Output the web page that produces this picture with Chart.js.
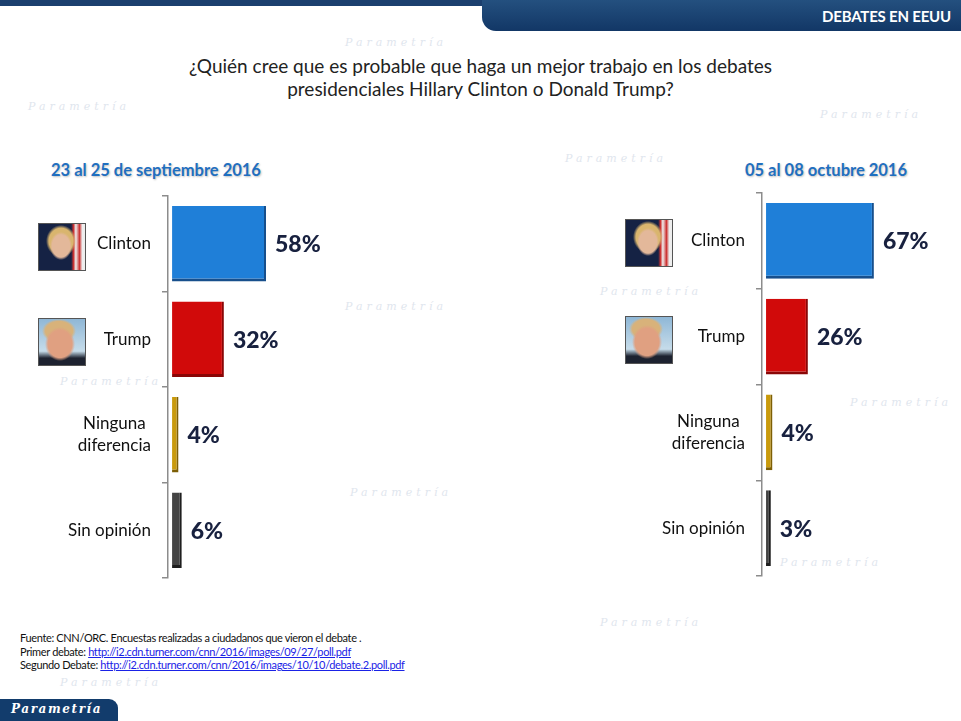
<!DOCTYPE html>
<html lang="es">
<head>
<meta charset="UTF-8">
<title>Debates en EEUU - Parametría</title>
<script src="https://cdn.jsdelivr.net/npm/chart.js"></script>
<style>
  body { margin: 0; width: 961px; height: 721px; position: relative; overflow: hidden; background: #fff; font-family: Lato, "Open Sans", sans-serif; }
  .topband { position: absolute; left: 0; top: 0; width: 961px; height: 6px; background: #1b3f6e; }
  .tab { position: absolute; left: 482px; top: 0; width: 479px; height: 31px; background: linear-gradient(#24507f, #123766); border-bottom-left-radius: 14px; }
  .tab span { position: absolute; right: 10px; top: 7px; color: #fff; font-weight: bold; font-size: 15px; letter-spacing: -0.2px; }
  .wm { position: absolute; font-family: "DejaVu Serif", serif; font-style: italic; font-size: 11px; letter-spacing: 4px; color: #dfe6ee; }
  .title { position: absolute; left: 0; top: 54px; width: 961px; text-align: center; font-size: 19px; line-height: 23px; color: #222; }
  .sub { position: absolute; top: 160px; font-weight: bold; font-size: 16.5px; color: #1f6fc0; text-shadow: 1px 1px 2px rgba(0,0,0,0.25); text-align: center; }
  .chartbox { position: absolute; }
  .photo { position: absolute; width: 46px; height: 46px; border: 1px solid #555; }
  .hillary { background: radial-gradient(ellipse 11px 14px at 22px 22px, #e3b89a 80%, transparent 100%), radial-gradient(ellipse 15px 16px at 22px 17px, #d9b56e 80%, transparent 100%), linear-gradient(90deg, #152244 70%, #c33 75%, #eee 80%, #c33 88%, #eee 94%); }
  .donald { background: radial-gradient(ellipse 15px 17px at 21px 25px, #e0a081 80%, transparent 100%), radial-gradient(ellipse 17px 12px at 20px 12px, #d8b27a 80%, transparent 100%), linear-gradient(#8fb7d6, #c6dcea 70%, #1d2230 85%); }
  .foot { position: absolute; left: 20px; top: 631px; font-size: 11px; line-height: 13.5px; letter-spacing: -0.35px; color: #111; }
  .foot a { color: #1a22e6; text-decoration: underline; }
  .logo { position: absolute; left: 0; top: 699px; width: 118px; height: 22px; background: #123c6c; border-top-right-radius: 9px; }
  .logo span { position: absolute; left: 11px; top: 3px; color: #fff; font-style: italic; font-weight: bold; font-size: 12px; letter-spacing: 1.6px; font-family: "DejaVu Serif", serif; }
</style>
</head>
<body>
<div class="wm" style="left:345px;top:36px;">Parametría</div>
<div class="wm" style="left:28px;top:100px;">Parametría</div>
<div class="wm" style="left:565px;top:152px;">Parametría</div>
<div class="wm" style="left:820px;top:108px;">Parametría</div>
<div class="wm" style="left:345px;top:300px;">Parametría</div>
<div class="wm" style="left:60px;top:375px;">Parametría</div>
<div class="wm" style="left:350px;top:486px;">Parametría</div>
<div class="wm" style="left:850px;top:396px;">Parametría</div>
<div class="wm" style="left:780px;top:556px;">Parametría</div>
<div class="wm" style="left:600px;top:285px;">Parametría</div>
<div class="wm" style="left:60px;top:676px;">Parametría</div>
<div class="wm" style="left:600px;top:616px;">Parametría</div>

<div class="topband"></div>
<div class="tab"><span>DEBATES EN EEUU</span></div>
<div class="title">¿Quién cree que es probable que haga un mejor trabajo en los debates<br>presidenciales Hillary Clinton o Donald Trump?</div>

<div class="sub" style="left:30px;width:252px;">23 al 25 de septiembre 2016</div>
<div class="sub" style="left:720px;width:212px;">05 al 08 octubre 2016</div>

<div class="chartbox" style="left:0;top:150px;width:340px;height:440px;"><canvas id="septChart"></canvas></div>
<div class="chartbox" style="left:600px;top:150px;width:361px;height:440px;"><canvas id="octChart"></canvas></div>

<div class="photo hillary" style="left:38px;top:223px;"></div>
<div class="photo donald" style="left:38px;top:318px;"></div>
<div class="photo hillary" style="left:625px;top:219px;"></div>
<div class="photo donald" style="left:625px;top:316px;"></div>

<div class="foot">
  Fuente: CNN/ORC. Encuestas realizadas a ciudadanos que vieron el debate .<br>
  Primer debate: <a href="#">http://i2.cdn.turner.com/cnn/2016/images/09/27/poll.pdf</a><br>
  Segundo Debate: <a href="#">http://i2.cdn.turner.com/cnn/2016/images/10/10/debate.2.poll.pdf</a>
</div>
<div class="logo"><span>Parametría</span></div>

<script>
// Data
const categories = ['Clinton', 'Trump', ['Ninguna', 'diferencia'], 'Sin opinión'];
const septValues = [58, 32, 4, 6];
const octValues = [67, 26, 4, 3];

const barColors = ['#1f7fd8', '#d10a0a', '#c99a0c', '#444444'];
const edgeColors = ['#174f8c', '#8a0606', '#7d5f05', '#1e1e1e'];

// category labels (centered lines, right-aligned block)
const categoryLabels = {
    id: 'categoryLabels',
    afterDraw(chart) {
        const ctx = chart.ctx;
        const y = chart.scales.y;
        const right = chart.chartArea.left - 17;
        ctx.save();
        ctx.font = '17px Lato, "Open Sans", sans-serif';
        ctx.fillStyle = '#111';
        ctx.textBaseline = 'middle';
        ctx.textAlign = 'center';
        chart.data.labels.forEach(function(lab, i) {
            const lines = Array.isArray(lab) ? lab : [lab];
            const w = Math.max.apply(null, lines.map(l => ctx.measureText(l).width));
            const cx = right - w / 2;
            const cy = y.getPixelForValue(i);
            const lh = 22;
            lines.forEach(function(l, k) {
                ctx.fillText(l, cx, cy + (k - (lines.length - 1) / 2) * lh);
            });
        });
        ctx.restore();
    }
};

// percentage at the end of each bar
const valueLabels = {
    id: 'valueLabels',
    afterDatasetsDraw(chart) {
        const ctx = chart.ctx;
        const meta = chart.getDatasetMeta(0);
        ctx.save();
        ctx.font = '900 23px Lato, "Open Sans", sans-serif';
        ctx.fillStyle = '#18213f';
        ctx.textBaseline = 'middle';
        ctx.textAlign = 'left';
        meta.data.forEach(function(bar, i) {
            ctx.fillText(chart.data.datasets[0].data[i] + '%', bar.x + 9, bar.y + 1);
        });
        ctx.restore();
    }
};

function makeChart(id, values, axisWidth, pad) {
    return new Chart(document.getElementById(id), {
        type: 'bar',
        data: {
            labels: categories,
            datasets: [{
                data: values,
                backgroundColor: barColors,
                borderColor: edgeColors,
                borderWidth: { top: 0, left: 0, right: 2, bottom: 3 },
                borderSkipped: false,
                categoryPercentage: 1,
                barPercentage: 0.79
            }]
        },
        options: {
            indexAxis: 'y',
            responsive: true,
            maintainAspectRatio: false,
            animation: false,
            layout: { padding: pad },
            plugins: { legend: { display: false }, tooltip: { enabled: false } },
            scales: {
                // small gap between axis line and bar base, like the 3D original
                x: { display: false, min: -2.5, max: 97.5 },
                y: {
                    afterFit(scale) { scale.width = axisWidth; },
                    ticks: { display: false },
                    grid: { offset: true, drawOnChartArea: false, drawTicks: true, tickLength: 6, color: '#8c8c8c', lineWidth: 1.5 },
                    border: { display: true, color: '#8c8c8c', width: 1.5 }
                }
            }
        },
        plugins: [categoryLabels, valueLabels]
    });
}

makeChart('septChart', septValues, 168, { left: 0, right: 10, top: 46, bottom: 12 });
makeChart('octChart', octValues, 162, { left: 0, right: 38, top: 43, bottom: 14 });
</script>
</body>
</html>
